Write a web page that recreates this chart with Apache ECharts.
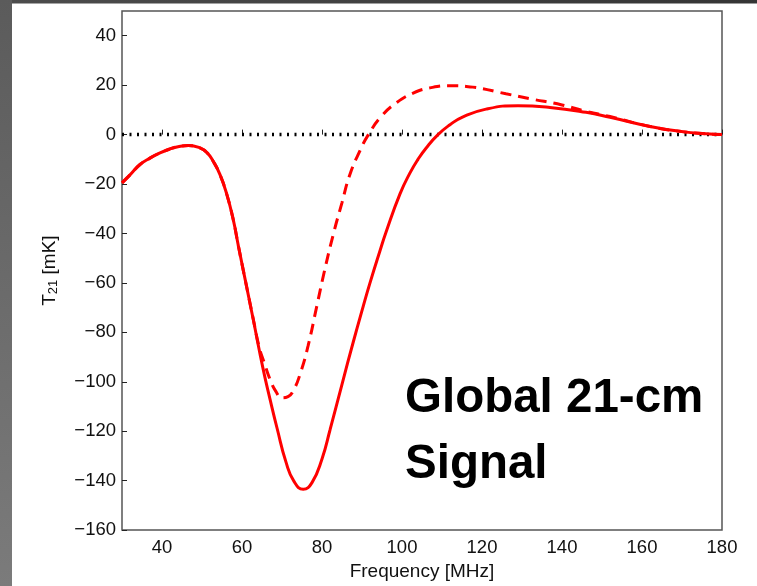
<!DOCTYPE html>
<html>
<head>
<meta charset="utf-8">
<script src="https://cdn.jsdelivr.net/npm/echarts@6/dist/echarts.min.js"></script>
<style>
  html, body { margin: 0; padding: 0; background: #fff; }
  #chart { width: 757px; height: 586px; }
</style>
</head>
<body>
<div id="chart"></div>
<script>
// Global 21-cm brightness temperature vs. observed frequency
const freqSolid = [30, 32, 34.5, 37, 39.5, 42, 44, 46.6, 49.5, 51.3, 52.8, 54.5, 56.2, 57.8, 59.1, 61, 62.8,
  65.3, 67, 68.8, 71, 73, 75.3, 77.5, 80, 82, 85, 87.8, 90.3, 92, 94.5, 96, 99.5, 102, 104, 106,
  109, 112, 115, 121, 129, 137, 146, 152, 162, 170, 176, 180];
const t21Solid = [-19.5, -16.3, -12.1, -9.5, -7.4, -5.8, -4.9, -4.4, -5.4, -7.4, -10.8, -16.2, -24.2, -34.3, -45.1, -60.3, -74.7,
  -95, -107, -119, -132.5, -140.3, -143.5, -140.8, -131.2, -119.5, -101, -84, -69.5, -60, -47, -39.5, -24, -15.5, -10, -5.5,
  0, 4, 7, 10.3, 11.7, 11, 9, 7, 3.3, 1.2, 0.3, 0];

const freqDashed = [30, 32, 34.5, 37, 39.5, 42, 44, 46.6, 49.5, 51.3, 52.8, 54.5, 56.2, 57.8, 59.1, 61, 62.8,
  64.3, 65.5, 67, 68.5, 70, 71.5, 73, 74.5, 76.5, 78.7, 80.5, 82.8, 85, 87, 89.5, 91.6, 94.9, 98.7,
  102.8, 107, 112, 117.7, 126, 132, 140, 146, 152, 162, 170, 176, 180];
const t21Dashed = [-19.5, -16.3, -12.1, -9.5, -7.4, -5.8, -4.9, -4.4, -5.4, -7.4, -10.8, -16.2, -24.2, -34.3, -45.1, -60.3, -74.5,
  -86, -92, -99, -104, -106.5, -106, -103, -97, -85.6, -69.4, -56, -40.5, -27.5, -16, -6.5, 0, 7.5, 13,
  16.8, 18.9, 19.8, 19.2, 16.5, 14.5, 12, 9.4, 7.3, 3.3, 1.2, 0.3, 0];

const zeroLine = [[30, 0], [180, 0]];

const xTicks = [40, 60, 80, 100, 120, 140, 160, 180];
const yTicks = [-160, -140, -120, -100, -80, -60, -40, -20, 0, 20, 40];

const FONT = "'Liberation Sans', Arial, Helvetica, sans-serif";
const minus = v => String(v).replace('-', '\u2212');

const chart = echarts.init(document.getElementById('chart'), null, { renderer: 'canvas' });

chart.setOption({
  animation: false,
  backgroundColor: '#ffffff',
  grid: {
    left: 122, top: 11, width: 600, height: 520,
    show: true, borderColor: '#555', borderWidth: 1.5, backgroundColor: '#fff'
  },
  xAxis: {
    type: 'value', min: 30, max: 180,
    name: 'Frequency [MHz]', nameLocation: 'middle', nameGap: 28,
    nameTextStyle: { fontFamily: FONT, fontSize: 19, color: '#111' },
    axisLine: { show: false },
    splitLine: { show: false },
    axisTick: { inside: true, length: 5, customValues: xTicks, lineStyle: { color: '#222', width: 1 } },
    axisLabel: { customValues: xTicks, margin: 8, fontFamily: FONT, fontSize: 18.5, color: '#111', formatter: minus }
  },
  yAxis: {
    type: 'value', min: -160, max: 50,
    name: 'T{sub|21} [mK]', nameLocation: 'middle', nameGap: 62,
    nameTextStyle: {
      fontFamily: FONT, fontSize: 19, color: '#111',
      rich: { sub: { fontFamily: FONT, fontSize: 13, color: '#111', verticalAlign: 'bottom', padding: [8, 0, 0, 0] } }
    },
    axisLine: { show: false },
    splitLine: { show: false },
    axisTick: { inside: true, length: 5, customValues: yTicks, lineStyle: { color: '#222', width: 1 } },
    axisLabel: { customValues: yTicks, margin: 6, fontFamily: FONT, fontSize: 18.5, color: '#111', formatter: minus }
  },
  graphic: [
    {
      type: 'rect', left: 0, top: 0, z: 100,
      shape: { width: 12, height: 586 },
      style: { fill: new echarts.graphic.LinearGradient(0, 0, 0, 1, [
        { offset: 0, color: '#5b5b5b' }, { offset: 1, color: '#7b7b7b' }]) }
    },
    {
      type: 'rect', left: 12, top: 0, z: 100,
      shape: { width: 745, height: 3.5 },
      style: { fill: new echarts.graphic.LinearGradient(0, 0, 1, 0, [
        { offset: 0, color: '#4c4c4c' }, { offset: 1, color: '#353535' }]) }
    },
    {
      type: 'text', left: 405, top: 366, z: 50,
      style: {
        text: 'Global 21-cm\nSignal',
        font: 'bold 47.5px ' + FONT,
        lineHeight: 66,
        fill: '#000'
      }
    }
  ],
  series: [
    {
      type: 'line', data: zeroLine, symbol: 'none', silent: true,
      lineStyle: { color: '#000', width: 3.5, type: [2, 5.5] }
    },
    {
      type: 'line', data: freqDashed.map((f, i) => [f, t21Dashed[i]]),
      symbol: 'none', smooth: 0.5,
      lineStyle: { color: '#ff0000', width: 3, type: [11, 7] }
    },
    {
      type: 'line', data: freqSolid.map((f, i) => [f, t21Solid[i]]),
      symbol: 'none', smooth: 0.5,
      lineStyle: { color: '#ff0000', width: 3 }
    }
  ]
});
</script>
</body>
</html>
